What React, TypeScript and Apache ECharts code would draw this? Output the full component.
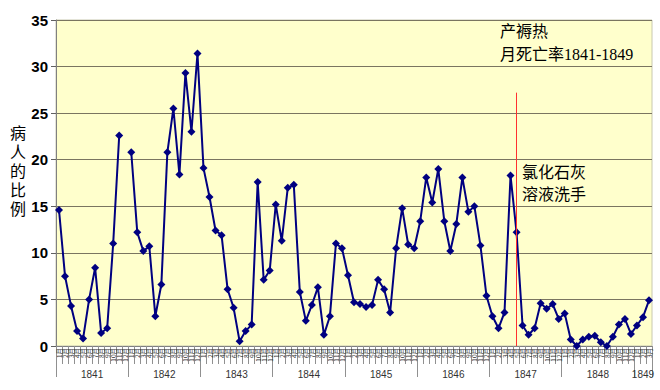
import React, { useEffect, useRef } from "react";
import * as echarts from "echarts";

const years = [1841, 1842, 1843, 1844, 1845, 1846, 1847, 1848, 1849];
const monthNames = ["1月", "2月", "3月", "4月", "5月", "6月", "7月", "8月", "9月", "10月", "11月", "12月"];

// monthly mortality rate (%), first clinic, Jan 1841 – Mar 1849 (Dec 1841 missing)
const rate1841 = [14.6, 7.5, 4.3, 1.6, 0.8, 5.0, 8.4, 1.4, 1.9, 11.0, 22.6, null];
const rate1842 = [20.8, 12.2, 10.2, 10.7, 3.2, 6.6, 20.8, 25.5, 18.4, 29.3, 23.0, 31.4];
const rate1843 = [19.1, 16.0, 12.4, 11.9, 6.1, 4.1, 0.5, 1.6, 2.3, 17.6, 7.1, 8.1];
const rate1844 = [15.2, 11.3, 17.0, 17.3, 5.8, 2.7, 4.4, 6.3, 1.2, 3.2, 11.0, 10.5];
const rate1845 = [7.6, 4.7, 4.5, 4.2, 4.4, 7.1, 6.1, 3.6, 10.5, 14.8, 10.9, 10.5];
const rate1846 = [13.4, 18.1, 15.4, 19.0, 13.4, 10.2, 13.1, 18.1, 14.4, 15.0, 10.8, 5.4];
const rate1847 = [3.2, 1.9, 3.6, 18.3, 12.2, 2.2, 1.2, 1.9, 4.6, 4.0, 4.5, 2.9];
const rate1848 = [3.5, 0.7, 0.0, 0.7, 1.0, 1.1, 0.4, 0.0, 1.0, 2.3, 2.9, 1.3];
const rate1849 = [2.2, 3.1, 4.9];

const yearRates = [rate1841, rate1842, rate1843, rate1844, rate1845, rate1846, rate1847, rate1848, rate1849];

const yTicks = [0, 5, 10, 15, 20, 25, 30, 35];
const handwashMonth = "1847-05";
const handwashLineTop = 27.2;

const titleText = "产褥热\n月死亡率1841-1849";
const noteText = "氯化石灰\n溶液洗手";
const yTitle = "病\n人\n的\n比\n例";

export default function App() {
  const ref = useRef<HTMLDivElement>(null);

  useEffect(() => {
    if (!ref.current) return;
    const chart = echarts.init(ref.current, undefined, { renderer: "svg" });

    const categories: string[] = [];
    const values: (number | null)[] = [];
    yearRates.forEach((arr, yi) => {
      arr.forEach((v, mi) => {
        categories.push(`${years[yi]}-${String(mi + 1).padStart(2, "0")}`);
        values.push(v);
      });
    });
    const n = categories.length;

    const yearTickPos: number[] = [];
    const yearLabelPos: number[] = [];
    years.forEach((y, i) => {
      const start = i * 12;
      const end = Math.min(start + 12, n);
      yearTickPos.push(start);
      yearLabelPos.push((start + end) / 2);
    });
    yearTickPos.push(n);

    const serif = "'Liberation Serif', 'Noto Sans CJK SC', serif";

    chart.setOption({
      animation: false,
      backgroundColor: "#ffffff",
      grid: {
        left: 56,
        top: 20,
        right: 8,
        bottom: 44,
        show: true,
        backgroundColor: "#FFFFCC",
        borderColor: "#c8c8b0",
        borderWidth: 1,
      },
      xAxis: [
        {
          type: "category",
          data: categories,
          boundaryGap: true,
          axisLine: { show: true, lineStyle: { color: "#808080", width: 1 } },
          axisTick: { show: true, interval: 0, length: 18, lineStyle: { color: "#909090" } },
          axisLabel: {
            interval: 0,
            rotate: 90,
            fontSize: 6.5,
            margin: 2,
            color: "#333",
            fontFamily: "'Noto Sans CJK SC', sans-serif",
            formatter: (v: string) => monthNames[parseInt(v.slice(5), 10) - 1],
          },
          splitLine: { show: false },
        },
        {
          type: "value",
          min: 0,
          max: n,
          position: "bottom",
          axisLine: { show: false },
          splitLine: { show: false },
          axisTick: {
            show: true,
            length: 31,
            customValues: yearTickPos,
            lineStyle: { color: "#909090" },
          },
          axisLabel: {
            show: true,
            customValues: yearLabelPos,
            margin: 23,
            fontSize: 10,
            color: "#333",
            fontFamily: "'Liberation Sans', Arial, sans-serif",
            formatter: (v: number) => {
              const idx = yearLabelPos.findIndex((p) => Math.abs(p - v) < 1e-6);
              return idx >= 0 ? String(years[idx]) : "";
            },
          },
        },
      ],
      yAxis: {
        type: "value",
        min: yTicks[0],
        max: yTicks[yTicks.length - 1],
        interval: 5,
        axisLine: { show: true, lineStyle: { color: "#808080" } },
        axisTick: { show: true, length: 5, lineStyle: { color: "#606060" } },
        axisLabel: {
          fontSize: 15,
          fontWeight: "bold",
          color: "#000",
          margin: 8,
          fontFamily: "'Liberation Sans', Arial, sans-serif",
        },
        splitLine: { show: true, lineStyle: { color: "#7a7560", width: 1 } },
      },
      series: [
        {
          type: "line",
          data: values,
          connectNulls: false,
          symbol: "diamond",
          symbolSize: 8,
          lineStyle: { color: "#000080", width: 2 },
          itemStyle: { color: "#000080" },
          markLine: {
            silent: true,
            symbol: ["none", "none"],
            label: { show: false },
            lineStyle: { color: "#ff3030", width: 1, type: "solid" },
            data: [[{ coord: [handwashMonth, 0] }, { coord: [handwashMonth, handwashLineTop] }]],
          },
        },
      ],
      graphic: [
        {
          type: "text",
          left: 500,
          top: 20,
          style: { text: titleText, fontSize: 16, lineHeight: 23, fill: "#000", fontFamily: serif },
        },
        {
          type: "text",
          left: 522,
          top: 161,
          style: { text: noteText, fontSize: 16, lineHeight: 22, fill: "#000", fontFamily: serif },
        },
        {
          type: "text",
          left: 10,
          top: 124,
          style: { text: yTitle, fontSize: 16, lineHeight: 19, fill: "#000", fontFamily: serif },
        },
      ],
    });

    return () => chart.dispose();
  }, []);

  return (
    <div
      ref={ref}
      style={{ position: "fixed", left: 0, top: 0, width: 660, height: 390 }}
    />
  );
}
